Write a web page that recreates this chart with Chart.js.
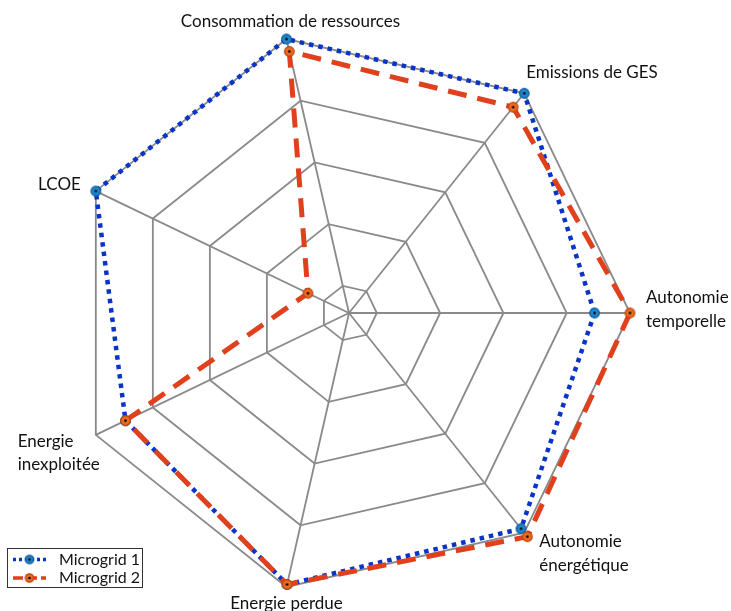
<!DOCTYPE html>
<html>
<head>
<meta charset="utf-8">
<script src="https://cdn.jsdelivr.net/npm/chart.js@4.4.0/dist/chart.umd.min.js"></script>
<style>
  html, body { margin: 0; padding: 0; background: #fff; overflow: hidden; }
  #wrap { width: 731px; height: 611px; position: relative; }
</style>
</head>
<body>
<div id="wrap"><canvas id="radar"></canvas></div>
<script>
// axes, clockwise starting from the right-hand spoke
const categories = [
  ['Autonomie', 'temporelle'],
  ['Autonomie', 'énergétique'],
  'Energie perdue',
  ['Energie', 'inexploitée'],
  'LCOE',
  'Consommation de ressources',
  'Emissions de GES'
];
const microgrid1 = [0.86, 0.98, 0.99, 0.87, 1.0, 1.0, 1.0];
const microgrid2 = [1.0, 1.02, 0.99, 0.87, 0.07, 0.95, 0.93];
const gridTicks = [-0.11, 0, 0.25, 0.5, 0.75, 1];
const seriesNames = ['Microgrid 1', 'Microgrid 2'];

const FONT = 'Lato, "Noto Sans", sans-serif';

function marker(fill, edge, r) {
  const s = Math.ceil(r * 2 + 3);
  const c = document.createElement('canvas');
  c.width = s; c.height = s;
  const g = c.getContext('2d');
  g.beginPath();
  g.arc(s / 2, s / 2, r, 0, Math.PI * 2);
  g.fillStyle = fill;
  g.fill();
  g.lineWidth = 1.2;
  g.strokeStyle = edge;
  g.stroke();
  g.beginPath();
  g.arc(s / 2, s / 2, 1.3, 0, Math.PI * 2);
  g.fillStyle = '#000';
  g.fill();
  return c;
}

// label placement relative to the outer vertex of each spoke
const labelPlace = [
  { align: 'left', dx: 16, dy: -15 },
  { align: 'left', dx: 15, dy: 9 },
  { align: 'center', dx: 0, dy: 17 },
  { align: 'right', dx: 4, dy: 6.5 },
  { align: 'right', dx: -15, dy: -7 },
  { align: 'center', dx: 4, dy: -18 },
  { align: 'left', dx: 2, dy: -21 }
];

const spokeLabels = {
  id: 'spokeLabels',
  afterDraw(chart) {
    const scale = chart.scales.r;
    const ctx = chart.ctx;
    ctx.save();
    ctx.font = '17px ' + FONT;
    ctx.fillStyle = '#111';
    ctx.textBaseline = 'middle';
    ctx.textAlign = 'left';
    const lh = 23.5;
    chart.data.labels.forEach((lab, i) => {
      const lines = Array.isArray(lab) ? lab : [lab];
      const p = scale.getPointPosition(i, scale.drawingArea);
      const w = Math.max(...lines.map(t => ctx.measureText(t).width));
      const pl = labelPlace[i];
      let x = p.x + pl.dx;
      if (pl.align === 'right') x -= w;
      if (pl.align === 'center') x -= w / 2;
      lines.forEach((t, k) => ctx.fillText(t, x, p.y + pl.dy + k * lh));
    });
    ctx.restore();
  }
};

const boxLegend = {
  id: 'boxLegend',
  afterDraw(chart) {
    const ctx = chart.ctx;
    ctx.save();
    ctx.fillStyle = '#fff';
    ctx.fillRect(8, 549, 134, 38);
    ctx.strokeStyle = '#333';
    ctx.lineWidth = 1;
    ctx.strokeRect(7.5, 548.5, 135, 39);
    const rows = [559.5, 578];
    chart.data.datasets.forEach((ds, i) => {
      const y = rows[i];
      ctx.save();
      ctx.strokeStyle = ds.borderColor;
      ctx.lineWidth = 3.5;
      ctx.setLineDash(ds.legendDash);
      ctx.beginPath();
      ctx.moveTo(13, y);
      ctx.lineTo(46, y);
      ctx.stroke();
      ctx.restore();
      const m = ds.legendMarker;
      ctx.drawImage(m, 29.5 - m.width / 2, y - m.height / 2);
      ctx.font = '16px ' + FONT;
      ctx.fillStyle = '#111';
      ctx.textBaseline = 'middle';
      ctx.fillText(ds.label, 59, y);
    });
    ctx.restore();
  }
};

new Chart(document.getElementById('radar'), {
  type: 'radar',
  data: {
    labels: categories,
    datasets: [
      {
        label: seriesNames[0],
        data: microgrid1,
        borderColor: '#0a33c8',
        borderWidth: 4.5,
        borderDash: [4.5, 5],
        borderCapStyle: 'butt',
        fill: false,
        pointStyle: marker('#1e86cc', '#0b5a9a', 4.8),
        legendMarker: marker('#1e86cc', '#0b5a9a', 4.2),
        legendDash: [3, 3],
        clip: false,
        order: 1
      },
      {
        label: seriesNames[1],
        data: microgrid2,
        borderColor: '#e0401c',
        borderWidth: 5,
        borderDash: [19, 11],
        borderCapStyle: 'butt',
        fill: false,
        pointStyle: marker('#ea6a22', '#b8440f', 4.8),
        legendMarker: marker('#ea6a22', '#b8440f', 4.2),
        legendDash: [10, 4],
        clip: false,
        order: 0
      }
    ]
  },
  options: {
    responsive: true,
    maintainAspectRatio: false,
    animation: false,
    layout: { padding: { left: 68, right: 101, top: 32, bottom: 17 } },
    elements: { line: { tension: 0 } },
    scales: {
      r: {
        min: -0.11,
        max: 1,
        startAngle: 90,
        afterBuildTicks: (s) => { s.ticks = gridTicks.map(v => ({ value: v })); },
        ticks: { display: false },
        pointLabels: { display: false },
        grid: { color: '#8a8a8a', lineWidth: 1.8 },
        angleLines: { color: '#8a8a8a', lineWidth: 1.8 }
      }
    },
    plugins: {
      legend: { display: false },
      tooltip: { enabled: false }
    }
  },
  plugins: [spokeLabels, boxLegend]
});
</script>
</body>
</html>
